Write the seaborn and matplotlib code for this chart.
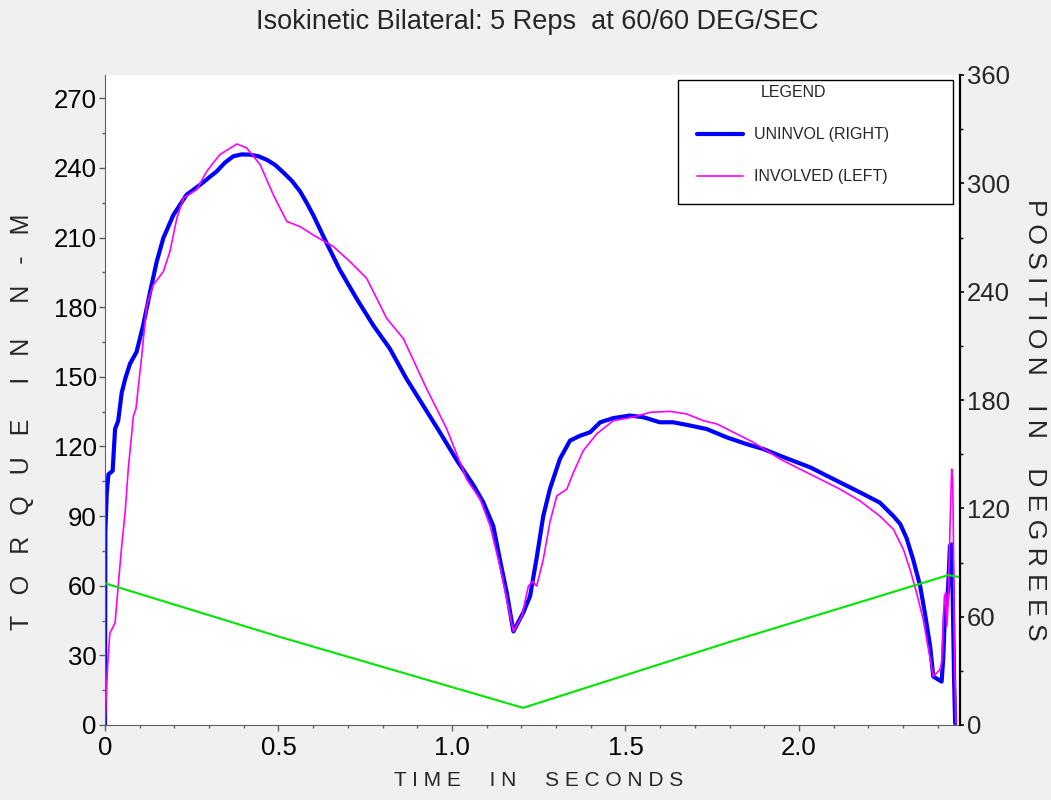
import numpy as np
import pandas as pd
import matplotlib
matplotlib.use("Agg")
import matplotlib.pyplot as plt
import seaborn as sns
from matplotlib.ticker import MultipleLocator, FixedLocator
from matplotlib.patches import Rectangle

# ---------------- data ----------------
title = "Isokinetic Bilateral: 5 Reps  at 60/60 DEG/SEC"
x_label = "T I M E     I N     S E C O N D S"
y_label = "T   O   R   Q   U   E     I   N     N   -   M"
y2_label = "P O S I T I O N    I N    D E G R E E S"
series_names = ["UNINVOL (RIGHT)", "INVOLVED (LEFT)"]
x_ticks = [0, 0.5, 1.0, 1.5, 2.0]
x_tick_labels = ["0", "0.5", "1.0", "1.5", "2.0"]
y_ticks = [0, 30, 60, 90, 120, 150, 180, 210, 240, 270]
y2_ticks = [0, 60, 120, 180, 240, 300, 360]

uninv_time = [0.0, 0.001, 0.005, 0.010, 0.022, 0.029, 0.038, 0.048, 0.058, 0.072,
              0.091, 0.110, 0.130, 0.149, 0.168, 0.197, 0.235, 0.274, 0.322, 0.346,
              0.370, 0.394, 0.418, 0.442, 0.466, 0.490, 0.514, 0.538, 0.562, 0.581,
              0.600, 0.639, 0.677, 0.725, 0.773, 0.821,
              0.869, 0.917, 0.965, 1.014, 1.061, 1.090, 1.119, 1.138, 1.158, 1.177,
              1.205, 1.225, 1.244, 1.263, 1.282, 1.311, 1.340, 1.369, 1.398, 1.427,
              1.465, 1.513, 1.551, 1.599, 1.638, 1.676, 1.734, 1.792, 1.849, 1.897,
              1.945, 2.032, 2.109, 2.176, 2.233, 2.272, 2.292, 2.310, 2.329, 2.349, 2.363,
              2.378, 2.387, 2.402, 2.411, 2.416, 2.421, 2.426, 2.430, 2.435, 2.440,
              2.443, 2.447, 2.450]
uninv_torque = [0, 83, 100, 108, 109.5, 127.5, 131, 143, 149, 155.6,
                160.7, 172.2, 186.6, 199.6, 209.7, 219.7, 228.4, 232.7, 238.5, 242.3,
                245.0, 245.8, 245.7, 245.0, 243.5, 241.3, 238.0, 234.5, 229.9, 225.0,
                219.7, 207.5, 196, 183.7, 172.2, 162.1,
                149.1, 137.6, 126.1, 114, 103.5, 96, 85.7, 71.3, 56.9, 40.3,
                48.3, 55.5, 72, 90, 101.6, 114.6, 122.5, 124.6, 126.1, 130.4,
                132.2, 133.3, 132.6, 130.4, 130.4, 129.3, 127.5, 123.9, 121, 118.9,
                116, 111, 105.2, 100.2, 95.8, 90, 86.5, 80.5, 71.3, 60, 48,
                33.8, 20.9, 19.5, 18.7, 29.5, 49.7, 52.6, 59.8, 77.1, 77.8,
                55.5, 19.5, 0.7]

inv_time = [0.000, 0.003, 0.008, 0.014, 0.019, 0.029, 0.038, 0.048, 0.058, 0.067,
            0.082, 0.089, 0.106, 0.120, 0.139, 0.168, 0.187, 0.207, 0.226, 0.264,
            0.293, 0.331, 0.380, 0.408, 0.447, 0.485, 0.524, 0.562, 0.600, 0.658,
            0.706, 0.754, 0.812, 0.860, 0.927, 0.985, 1.042, 1.081, 1.110, 1.138,
            1.177, 1.201, 1.220, 1.232, 1.244, 1.263, 1.282, 1.302, 1.331, 1.350,
            1.378, 1.417, 1.465, 1.522, 1.571, 1.628, 1.676, 1.724, 1.763, 1.811,
            1.868, 1.945, 2.003, 2.061, 2.118, 2.176, 2.233, 2.272, 2.301, 2.320,
            2.339, 2.358, 2.387, 2.396, 2.406, 2.411, 2.419, 2.423, 2.426, 2.430,
            2.435, 2.440, 2.443, 2.445, 2.447, 2.452]
inv_torque = [0, 10.8, 26.7, 39.6, 41, 44, 59.8, 77, 91.5, 110.2,
              133.3, 136, 159.2, 180.8, 189.5, 195.3, 203.9, 218.3, 227, 230.6,
              238.5, 245.7, 250.3, 248.6, 241.4, 228.4, 216.9, 214.7, 211.1, 206.1,
              199.6, 192.4, 175.1, 166.4, 144.8, 127.5, 105.9, 97.3, 85.7, 68.4,
              40.3, 46.8, 59.8, 61.9, 59.8, 71.3, 87.2, 98.7, 101.6, 108.8,
              118.1, 125.4, 131.1, 132.6, 134.7, 135.1, 134, 131.1, 129.7, 126.1,
              121.8, 114.6, 110.2, 105.9, 101.6, 96.5, 90, 84.3, 75.6, 67,
              56.9, 45.4, 20.9, 22.3, 23.8, 26.7, 55.5, 56.9, 42.5, 52.6,
              84.3, 110.2, 105.9, 81.4, 41.1, 0.7]

pos_time = [0.0, 0.5, 1.205, 1.8, 2.43, 2.46]
pos_deg = [78.5, 49.0, 9.5, 46.0, 83.0, 82.0]

# ---------------- style ----------------
sns.set_style("ticks")
plt.rcParams['font.family'] = ['Liberation Sans', 'DejaVu Sans']

BG = "#f0f0f0"
BLUE = "#0000ff"
MAGENTA = "#ff00ff"
GREEN = "#00e600"

fig = plt.figure(figsize=(10.51, 8.0), dpi=100, facecolor=BG)
ax = fig.add_axes([105 / 1051, 1 - 725 / 800, 855 / 1051, 650 / 800])
ax.set_facecolor("white")
ax2 = ax.twinx()

df_u = pd.DataFrame({"t": uninv_time, "v": uninv_torque})
df_i = pd.DataFrame({"t": inv_time, "v": inv_torque})
df_p = pd.DataFrame({"t": pos_time, "v": pos_deg})

sns.lineplot(data=df_u, x="t", y="v", ax=ax, color=BLUE, lw=3.0,
             sort=False, estimator=None, label=series_names[0], legend=False)
sns.lineplot(data=df_i, x="t", y="v", ax=ax, color=MAGENTA, lw=1.2,
             sort=False, estimator=None, label=series_names[1], legend=False)
sns.lineplot(data=df_p, x="t", y="v", ax=ax2, color=GREEN, lw=1.5,
             sort=False, estimator=None, legend=False)

ax.set_xlim(0, 2.464)
ax.set_ylim(0, 280)
ax2.set_ylim(0, 360)

ax.xaxis.set_major_locator(FixedLocator(x_ticks))
ax.set_xticklabels(x_tick_labels)
ax.xaxis.set_minor_locator(MultipleLocator(0.1))
ax.yaxis.set_major_locator(FixedLocator(y_ticks))
ax.yaxis.set_minor_locator(MultipleLocator(15))
ax2.yaxis.set_major_locator(FixedLocator(y2_ticks))
ax2.yaxis.set_minor_locator(MultipleLocator(30))

ax.set_xlabel("")
ax.set_ylabel("")
ax2.set_ylabel("")

for a in (ax, ax2):
    a.spines["top"].set_visible(False)
ax.spines["left"].set_color("#606060")
ax.spines["bottom"].set_color("#606060")
ax.spines["right"].set_visible(False)
ax2.spines["left"].set_visible(False)
ax2.spines["bottom"].set_visible(False)
ax2.spines["right"].set_color("black")
ax2.spines["right"].set_linewidth(1.6)

ax.tick_params(axis="both", which="major", direction="out", length=4, width=1,
               color="#606060", labelsize=18.5, labelcolor="black", pad=2)
ax.tick_params(axis="both", which="minor", direction="out", length=2, width=1,
               color="#606060")
ax.tick_params(axis="x", which="major", pad=4)
ax2.tick_params(axis="y", which="major", direction="out", length=3, width=1.2,
                color="black", labelsize=18.5, pad=2)
ax2.tick_params(axis="y", which="minor", direction="out", length=2, width=1,
                color="black")

# legend frame + legend
rect = Rectangle((0.670, (725 - 204) / 650), 0.322, 124 / 650, transform=ax.transAxes,
                 facecolor="white", edgecolor="black", lw=1.0, zorder=8, clip_on=False)
ax2.add_patch(rect)
handles = ax.get_lines()[:2]
leg = ax2.legend(handles, series_names, title="LEGEND", loc="upper left",
                 bbox_to_anchor=((697 - 105) / 855, (725 - 85) / 650),
                 frameon=False, fontsize=11.5, title_fontsize=11.5,
                 handlelength=2.9, handletextpad=0.7, labelspacing=1.7,
                 borderpad=0, borderaxespad=0)
leg.set_zorder(10)

# titles / labels
fig.text(537 / 1051, 1 - 22 / 800, title, ha="center", va="center", fontsize=19.5)
fig.text(539 / 1051, 1 - 781 / 800, x_label, ha="center", va="center", fontsize=15)
fig.text(22 / 1051, 1 - 422 / 800, y_label, ha="center", va="center", fontsize=18,
         rotation=90)
fig.text(1035 / 1051, 1 - 420 / 800, y2_label, ha="center", va="center", fontsize=19,
         rotation=-90)

fig.savefig("out.png", dpi=100, facecolor=BG)
